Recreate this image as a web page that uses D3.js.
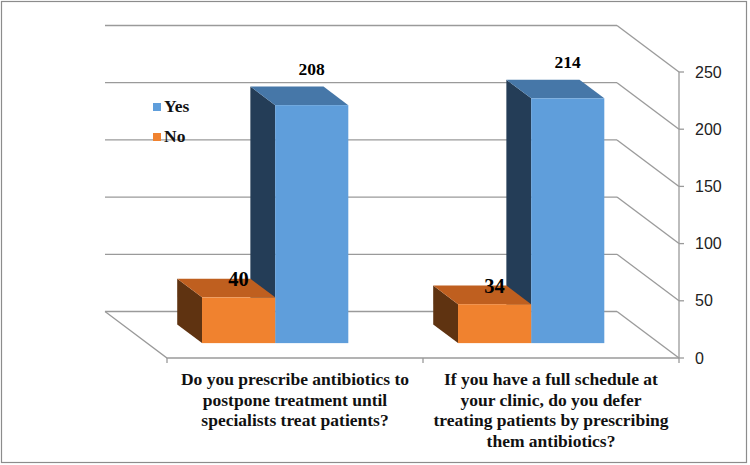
<!DOCTYPE html>
<html>
<head>
<meta charset="utf-8">
<script src="https://cdn.jsdelivr.net/npm/d3@7"></script>
<style>
  body { margin: 0; background: #fff; }
  .serif { font-family: 'Liberation Serif', 'Times New Roman', serif; font-weight: bold; }
  .sans { font-family: 'Liberation Sans', Arial, sans-serif; }
</style>
</head>
<body>
<div id="chart"></div>
<script>
var categories = [
  ['Do you prescribe antibiotics to', 'postpone treatment until', 'specialists treat patients?'],
  ['If you have a full schedule at', 'your clinic, do you defer', 'treating patients by prescribing', 'them antibiotics?']
]
var series = ['No', 'Yes']
var noValues = [40, 34]
var yesValues = [208, 214]
var yTicks = [0, 50, 100, 150, 200, 250]

var width = 750
var height = 465

var svg = d3
  .select('#chart')
  .append('svg')
  .attr('width', width)
  .attr('height', height)

// outer frame of the chart area
svg.append('rect')
  .attr('x', 1.5)
  .attr('y', 1.5)
  .attr('width', 745)
  .attr('height', 461)
  .attr('fill', 'white')
  .attr('stroke', '#8c8c8c')
  .attr('stroke-width', 1.2)

// oblique depth: z = 0 is the front of the floor, z = 1 the back wall
var depth = { x: -62, y: -46.5 }

var catIdx = categories.map((d, i) => i)
var x = d3.scaleBand().domain(catIdx).range([167, 679])
var x1 = d3.scaleBand().domain(series).range([0, x.bandwidth()]).paddingOuter(0.75)
var y = d3.scaleLinear().domain([0, 250]).range([358, 72])

function pt(px, v, z) {
  return [px + depth.x * z, y(v) + depth.y * z]
}

var line = d3.line()

var colors = {
  Yes: { front: '#5f9edb', top: '#4677a8', side: '#243d57' },
  No: { front: '#f0822f', top: '#bf5f1f', side: '#5f3311' }
}

// back wall gridlines + side wall diagonals
var grid = svg.append('g').attr('fill', 'none').attr('stroke', '#9a9a9a').attr('stroke-width', 1.3)
yTicks.forEach(t => {
  grid.append('path').attr('d', line([pt(x.range()[0], t, 1), pt(x.range()[1], t, 1)]))
  grid.append('path').attr('d', line([pt(x.range()[1], t, 1), pt(x.range()[1], t, 0)]))
})
// floor
grid.append('path').attr('d', line([pt(x.range()[0], 0, 1), pt(x.range()[0], 0, 0), pt(x.range()[1], 0, 0)]))
// vertical axis
grid.append('path').attr('d', line([pt(x.range()[1], 0, 0), pt(x.range()[1], 250, 0)]))

// axis ticks + labels
yTicks.forEach(t => {
  grid.append('path').attr('d', line([pt(679, t, 0), pt(684, t, 0)]))
  svg.append('text')
    .attr('class', 'sans')
    .attr('x', 695)
    .attr('y', y(t))
    .attr('dy', '0.35em')
    .attr('font-size', 16)
    .attr('fill', '#222')
    .text(t)
})
;[167, 423, 679].forEach(px => {
  grid.append('path').attr('d', line([[px, 358], [px, 363]]))
})

// 3d columns, Yes drawn first so the No column hides the hidden part of its side
var z0 = 0.32
var z1 = 0.72
var bars = []
catIdx.forEach(i => {
  bars.push({ cat: i, s: 'Yes', v: yesValues[i] })
  bars.push({ cat: i, s: 'No', v: noValues[i] })
})

var barG = svg.append('g')
bars.forEach(b => {
  var left = x(b.cat) + x1(b.s)
  var right = left + x1.bandwidth()
  var c = colors[b.s]
  var g = barG.append('g')
  // left side
  g.append('path')
    .attr('d', line([pt(left, 0, z1), pt(left, 0, z0), pt(left, b.v, z0), pt(left, b.v, z1)]) + 'Z')
    .attr('fill', c.side)
  // top
  g.append('path')
    .attr('d', line([pt(left, b.v, z0), pt(right, b.v, z0), pt(right, b.v, z1), pt(left, b.v, z1)]) + 'Z')
    .attr('fill', c.top)
  // front
  var p0 = pt(left, b.v, z0)
  var p1 = pt(right, 0, z0)
  g.append('rect')
    .attr('x', p0[0])
    .attr('y', p0[1])
    .attr('width', p1[0] - p0[0])
    .attr('height', p1[1] - p0[1])
    .attr('fill', c.front)
})

// data labels
bars.forEach(b => {
  var left = x(b.cat) + x1(b.s)
  var cx = pt(left + x1.bandwidth() / 2, b.v, z0)[0]
  var backTop = pt(left, b.v, z1)[1]
  svg.append('text')
    .attr('class', 'serif')
    .attr('x', cx)
    .attr('y', b.s === 'Yes' ? backTop - 12 : backTop + 7)
    .attr('text-anchor', 'middle')
    .attr('font-size', b.s === 'Yes' ? 17.5 : 20.5)
    .attr('fill', '#000')
    .text(b.v)
})

// category labels
categories.forEach((lines, i) => {
  var t = svg.append('text')
    .attr('class', 'serif')
    .attr('text-anchor', 'middle')
    .attr('font-size', 17.5)
    .attr('fill', '#111')
  lines.forEach((l, j) => {
    t.append('tspan')
      .attr('x', x(i) + x.bandwidth() / 2)
      .attr('y', 385 + j * 20.7)
      .text(l)
  })
})

// legend
var legend = svg.append('g')
;['Yes', 'No'].forEach((s, i) => {
  legend.append('rect')
    .attr('x', 153)
    .attr('y', 103 + i * 30)
    .attr('width', 8)
    .attr('height', 8)
    .attr('fill', colors[s].front)
  legend.append('text')
    .attr('class', 'serif')
    .attr('x', 164)
    .attr('y', 112 + i * 30)
    .attr('font-size', 17.5)
    .attr('fill', '#111')
    .text(s)
})
</script>
</body>
</html>
